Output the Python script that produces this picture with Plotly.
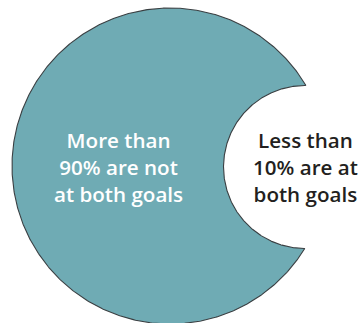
import numpy as np
import plotly.graph_objects as go

# Two groups of patients and the text shown for each
groups = ["Not at both goals", "At both goals"]
group_labels = [
    "More than<br>90% are not<br>at both goals",
    "Less than<br>10% are at<br>both goals",
]
label_colors = ["#ffffff", "#231f20"]

# Layout geometry in pixel units (figure is 361 x 323)
W, H = 361, 323
outer_c, outer_r = (170.0, 166.0), 158.0   # large disc
bite_c, bite_r = (305.0, 167.0), 81.5       # circle cut out of the disc
label_pos = [(118.0, 167.0), (305.5, 167.0)]

TEAL = "#6fabb4"
EDGE = "#3a3f42"


def circle_intersections(c0, r0, c1, r1):
    x0, y0 = c0
    x1, y1 = c1
    d = np.hypot(x1 - x0, y1 - y0)
    a = (r0 ** 2 - r1 ** 2 + d ** 2) / (2 * d)
    h = np.sqrt(r0 ** 2 - a ** 2)
    xm = x0 + a * (x1 - x0) / d
    ym = y0 + a * (y1 - y0) / d
    p1 = (xm + h * (y1 - y0) / d, ym - h * (x1 - x0) / d)
    p2 = (xm - h * (y1 - y0) / d, ym + h * (x1 - x0) / d)
    return sorted([p1, p2], key=lambda p: p[1])  # top first (y grows downward)


top, bottom = circle_intersections(outer_c, outer_r, bite_c, bite_r)

# outer arc: from the top crossing the long way round to the bottom crossing
tA = np.arctan2(top[1] - outer_c[1], top[0] - outer_c[0])
tB = np.arctan2(bottom[1] - outer_c[1], bottom[0] - outer_c[0])
t_outer = np.linspace(tA, tB - 2 * np.pi, 600)
xo = outer_c[0] + outer_r * np.cos(t_outer)
yo = outer_c[1] + outer_r * np.sin(t_outer)

# bite arc: from the bottom crossing back to the top crossing, bulging left
sA = np.arctan2(bottom[1] - bite_c[1], bottom[0] - bite_c[0])
sB = np.arctan2(top[1] - bite_c[1], top[0] - bite_c[0])
if sB < sA:
    sB += 2 * np.pi
t_bite = np.linspace(sA, sB, 400)
xb = bite_c[0] + bite_r * np.cos(t_bite)
yb = bite_c[1] + bite_r * np.sin(t_bite)

xs = np.concatenate([xo, xb, xo[:1]])
ys = np.concatenate([yo, yb, yo[:1]])

fig = go.Figure()
fig.add_trace(
    go.Scatter(
        x=xs,
        y=ys,
        mode="lines",
        fill="toself",
        fillcolor=TEAL,
        line=dict(color=EDGE, width=1.1),
        name=groups[0],
        hoverinfo="skip",
        showlegend=False,
    )
)

for text, color, (lx, ly) in zip(group_labels, label_colors, label_pos):
    fig.add_annotation(
        x=lx,
        y=ly,
        xref="x",
        yref="y",
        text=text,
        showarrow=False,
        align="center",
        xanchor="center",
        yanchor="middle",
        font=dict(family="Open Sans", size=20.6, color=color, weight=600),
    )

fig.update_layout(
    width=W,
    height=H,
    margin=dict(l=0, r=0, t=0, b=0),
    paper_bgcolor="white",
    plot_bgcolor="white",
    xaxis=dict(range=[0, W], visible=False, fixedrange=True),
    yaxis=dict(range=[H, 0], visible=False, fixedrange=True),
    showlegend=False,
)

fig.write_html("out.html", config={"displayModeBar": False})
